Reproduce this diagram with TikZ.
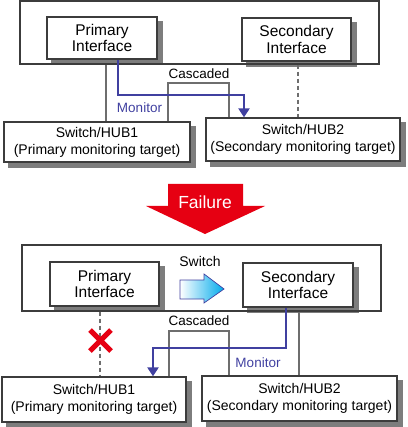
\documentclass[tikz,border=0pt]{standalone}
\usepackage{fontspec}
\setmainfont{Liberation Sans}
\usetikzlibrary{calc,arrows.meta,backgrounds}
\definecolor{monblue}{RGB}{64,64,160}
\definecolor{failred}{RGB}{230,0,18}
\definecolor{swcyan}{RGB}{0,170,235}
\definecolor{boxgray}{RGB}{60,60,60}
\definecolor{linegray}{RGB}{110,110,110}
\definecolor{shadowgray}{RGB}{125,125,125}

\begin{document}
\begin{tikzpicture}[x=1pt,y=-1pt,
    outerbox/.style={draw=boxgray,line width=1.1pt,inner sep=0pt},
    ifbox/.style={draw=boxgray,line width=1.3pt,fill=white,align=center,inner sep=0pt,
      font=\fontsize{15.5}{16.5}\selectfont},
    hubbox/.style={ifbox,font=\fontsize{14}{17}\selectfont},
    link/.style={draw=linegray,line width=1.4pt},
    dashlink/.style={link,dash pattern=on 4pt off 3pt},
    monitor/.style={draw=monblue,line width=2.8pt,-{Triangle[width=11pt,length=9pt]}},
    lbl/.style={font=\fontsize{13.5}{15}\selectfont,inner sep=0pt}]
    \useasboundingbox (0,0) rectangle (407,427);

    % Before the failure
    \node[outerbox,minimum width=359pt,minimum height=63pt] (outer1) at (199.5,32.5) {};
    \node[ifbox,minimum width=110pt,minimum height=42pt] (pri1) at (102,38) {Primary\\Interface};
    \node[ifbox,minimum width=109pt,minimum height=43pt] (sec1) at (296.5,39.5) {Secondary\\Interface};
    \node[hubbox,minimum width=186pt,minimum height=40pt] (hubA1) at (97,142) {Switch/HUB1\\(Primary monitoring target)};
    \node[hubbox,minimum width=194pt,minimum height=43pt] (hubB1) at (303,139.5) {Switch/HUB2\\(Secondary monitoring target)};

    \coordinate (la1) at (106,0);
    \coordinate (lb1) at (298,0);
    \coordinate (ca1) at (168,83);
    \coordinate (cb1) at (229,83);
    \coordinate (ma1) at (118,95);
    \coordinate (mb1) at (244,95);

    \draw[link] (outer1.south -| la1) -- (hubA1.north -| la1);
    \draw[dashlink] (outer1.south -| lb1) -- (hubB1.north -| lb1);
    \draw[link] (hubA1.north -| ca1) -- (ca1) -- (cb1) -- (hubB1.north -| cb1);
    \node[lbl] (casc1) at (199,74) {Cascaded};
    \draw[monitor] (pri1.south -| ma1) -- (ma1) -- (mb1) -- (hubB1.north -| mb1);
    \node[lbl,text=monblue] (mon1) at (139.5,108) {Monitor};

    % Failure arrow
    \fill[failred] (168,184) -- (243,184) -- (243,206) -- (265,206) -- (205,234)
        -- (146,206) -- (168,206) -- cycle;
    \node[font=\fontsize{17.5}{19}\selectfont,text=white,inner sep=0pt] (fail) at (205,202) {Failure};

    % After the failure
    \node[outerbox,minimum width=359pt,minimum height=66pt] (outer2) at (201.5,278) {};
    \node[ifbox,minimum width=109pt,minimum height=44pt] (pri2) at (104.5,284) {Primary\\Interface};
    \node[ifbox,minimum width=110pt,minimum height=44pt] (sec2) at (298,285) {Secondary\\Interface};
    \node[hubbox,minimum width=184pt,minimum height=45pt] (hubA2) at (94,399.5) {Switch/HUB1\\(Primary monitoring target)};
    \node[hubbox,minimum width=195pt,minimum height=45pt] (hubB2) at (299.5,398.5) {Switch/HUB2\\(Secondary monitoring target)};

    % Switch arrow
    \node[lbl,font=\fontsize{14}{15}\selectfont] (swlbl) at (200,261) {Switch};
    \shade[left color=white,right color=swcyan,draw=monblue,line width=0.7pt]
        (180,280) -- (204,280) -- (204,274) -- (224,289) -- (204,303) -- (204,299)
        -- (180,299) -- cycle;

    \coordinate (la2) at (100,0);
    \coordinate (lb2) at (299,0);
    \coordinate (ca2) at (169,331);
    \coordinate (cb2) at (229,331);
    \coordinate (ma2) at (286,348);
    \coordinate (mb2) at (153,348);
    \coordinate (cross) at (100.5,340.5);

    \draw[dashlink] (outer2.south -| la2) -- (hubA2.north -| la2);
    \draw[link] (outer2.south -| lb2) -- (hubB2.north -| lb2);
    \draw[link] (hubA2.north -| ca2) -- (ca2) -- (cb2) -- (hubB2.north -| cb2);
    \node[lbl] (casc2) at (199,321) {Cascaded};
    \draw[monitor] (sec2.south -| ma2) -- (ma2) -- (mb2) -- (hubA2.north -| mb2);
    \node[lbl,text=monblue] (mon2) at (258,363) {Monitor};

    % Broken link mark
    \draw[failred,line width=5pt] ($(cross)+(-10.5,-10.5)$) -- ($(cross)+(10.5,10.5)$)
        ($(cross)+(-10.5,10.5)$) -- ($(cross)+(10.5,-10.5)$);

    % Box shadows
    \begin{pgfonlayer}{background}
    \foreach \n in {pri1,sec1,hubA1,hubB1,pri2,sec2,hubA2,hubB2}
        \fill[shadowgray] ($(\n.south west)+(5,5)$) rectangle ($(\n.north east)+(5,5)$);
    \end{pgfonlayer}
\end{tikzpicture}
\end{document}
